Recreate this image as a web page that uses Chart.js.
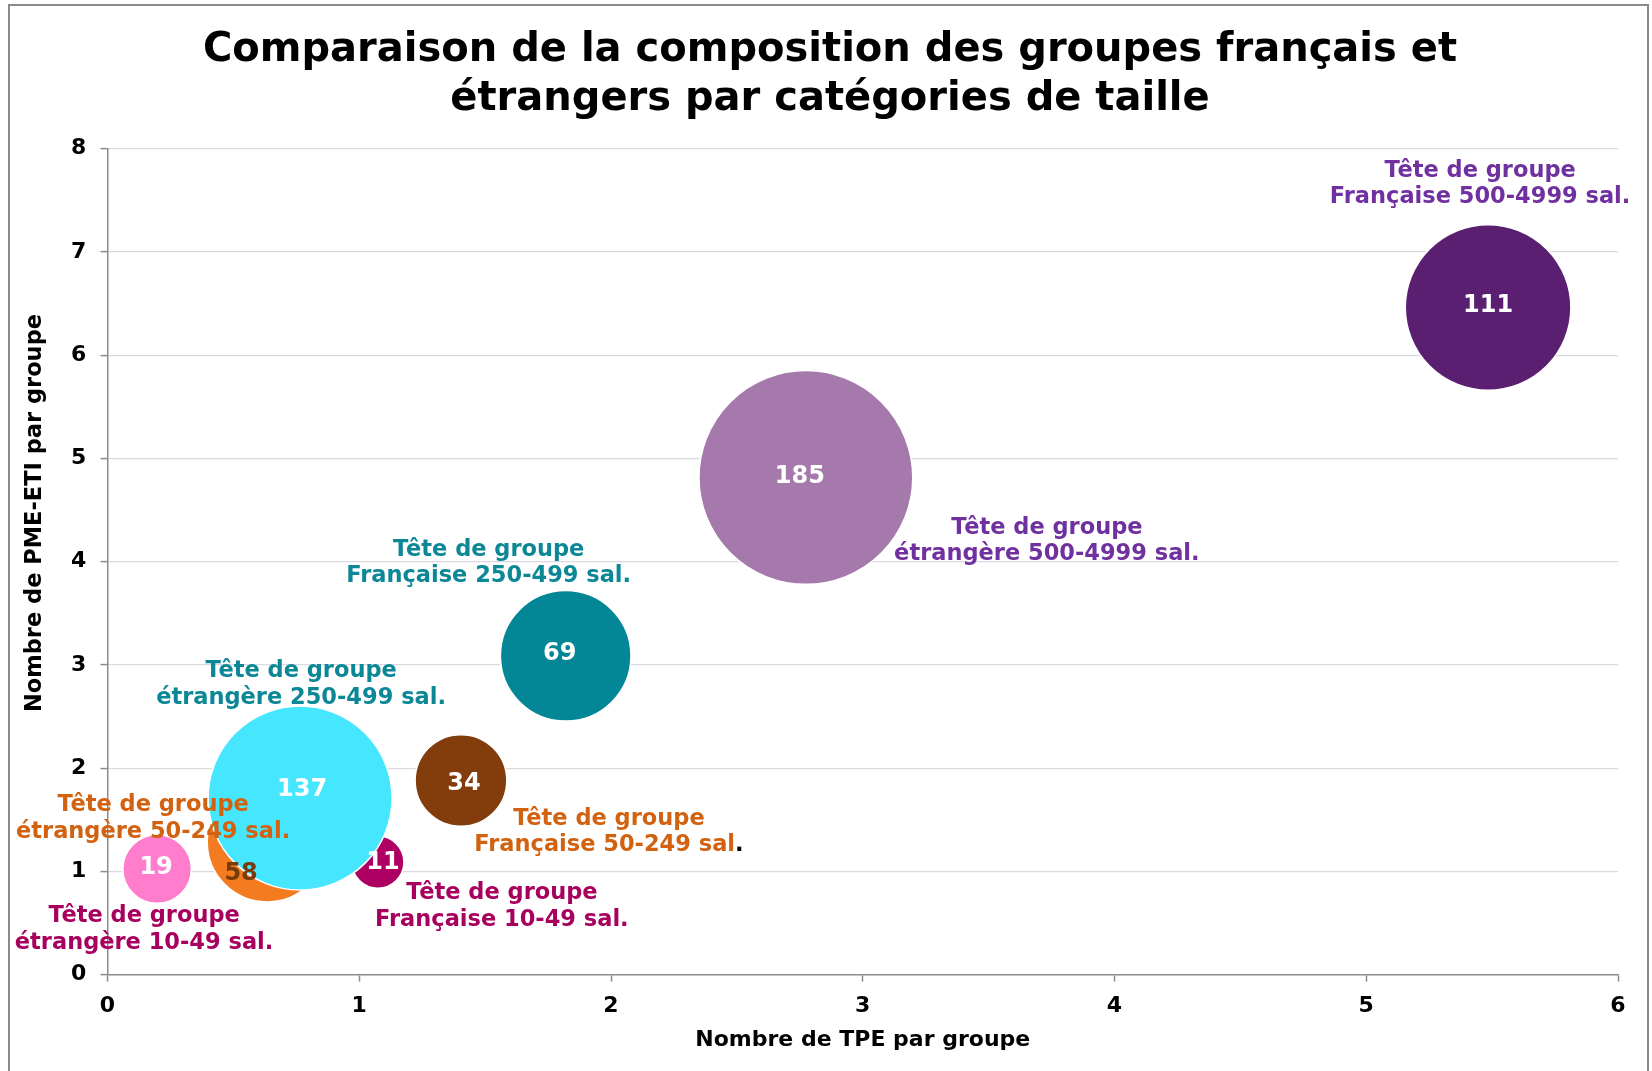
<!DOCTYPE html>
<html lang="fr">
<head>
<meta charset="utf-8">
<title>Comparaison de la composition des groupes français et étrangers</title>
<script src="https://cdn.jsdelivr.net/npm/chart.js@4.4.1/dist/chart.umd.min.js"></script>
<style>
  html, body { margin: 0; padding: 0; background: #fff; }
  canvas { display: block; }
</style>
</head>
<body>
<canvas id="chart" width="1652" height="1071"></canvas>
<script>
// --- data ---
const groupNames = [
  "étrangère 10-49 sal.",
  "Française 10-49 sal.",
  "étrangère 50-249 sal.",
  "étrangère 250-499 sal.",
  "Française 50-249 sal.",
  "Française 250-499 sal.",
  "étrangère 500-4999 sal.",
  "Française 500-4999 sal."
];
const tpeParGroupe    = [0.197, 1.074, 0.634, 0.765, 1.404, 1.820, 2.774, 5.484];
const pmeEtiParGroupe = [1.023, 1.090, 1.284, 1.710, 1.880, 3.088, 4.815, 6.461];
const nbGroupes       = [19, 11, 58, 137, 34, 69, 185, 111];
const xTickLabels = ["0", "1", "2", "3", "4", "5", "6"];
const yTickLabels = ["0", "1", "2", "3", "4", "5", "6", "7", "8"];

// --- styling ---
const FONT = "'DejaVu Sans', Verdana, sans-serif";
const bubbleColors = ["#FF7DCC", "#AE0063", "#F47B20", "#47E6FF", "#833C0B", "#038797", "#A679AD", "#5B1F72"];
const textColors   = ["#A8005E", "#A8005E", "#D2620F", "#0B8796", "#D2620F", "#0B8796", "#7030A0", "#7030A0"];
const valueColors  = ["#fff", "#fff", "#7A3B0C", "#fff", "#fff", "#fff", "#fff", "#fff"];
// where the two-line labels sit, relative to bubble centre (px)
const labelShift = [[-13, 47.5], [124, 31.5], [-114, -36.5], [1, -126.5], [148, 38.5], [-77, -105.5], [241, 50.5], [-8, -136.5]];
const valueShift = [[-1, -1], [5, 1], [-26, 32], [2, -8], [3, 3], [-6, -2], [-6, -1], [0, -2]];
const blackDot = 4; // the "Française 50-249" label ends with a black full stop
const bubbleScale = 7.86; // radius px per sqrt(n)
const gray = "#8c8c8c";

const points = nbGroupes.map((n, i) => ({
  x: tpeParGroupe[i], y: pmeEtiParGroupe[i], r: bubbleScale * Math.sqrt(n)
}));

const labelsPlugin = {
  id: "bubbleLabels",
  beforeDraw(chart) {
    const c = chart.ctx;
    c.save();
    c.strokeStyle = "#8a8a8a";
    c.lineWidth = 2;
    c.strokeRect(9, 5, 1639, 1100);
    c.restore();
  },
  afterDatasetsDraw(chart) {
    const c = chart.ctx;
    const meta = chart.getDatasetMeta(0);
    c.save();
    c.textAlign = "center";
    c.textBaseline = "middle";
    meta.data.forEach((el, i) => {
      // value inside the bubble
      c.font = "bold 24px " + FONT;
      c.fillStyle = valueColors[i];
      c.fillText(String(nbGroupes[i]), el.x + valueShift[i][0], el.y + valueShift[i][1]);
    });
    meta.data.forEach((el, i) => {
      const lx = el.x + labelShift[i][0];
      const ly = el.y + labelShift[i][1];
      c.font = "bold 22.5px " + FONT;
      c.fillStyle = textColors[i];
      c.textAlign = "center";
      c.fillText("Tête de groupe", lx, ly);
      if (i === blackDot) {
        const name = groupNames[i];
        const head = name.slice(0, -1);
        const w = c.measureText(name).width;
        const x0 = lx - w / 2;
        c.textAlign = "left";
        c.fillText(head, x0, ly + 26.3);
        c.fillStyle = "#000";
        c.fillText(".", x0 + c.measureText(head).width, ly + 26.3);
      } else {
        c.fillText(groupNames[i], lx, ly + 26.3);
      }
    });
    // y axis title
    c.textAlign = "center";
    c.translate(35, 513);
    c.rotate(-Math.PI / 2);
    c.font = "bold 22.5px " + FONT;
    c.fillStyle = "#000";
    c.fillText("Nombre de PME-ETI par groupe", 0, 0);
    c.restore();
  }
};

new Chart(document.getElementById("chart"), {
  type: "bubble",
  data: {
    datasets: [{
      data: points,
      backgroundColor: bubbleColors,
      borderColor: "#fff",
      borderWidth: 1.5
    }]
  },
  options: {
    responsive: false,
    devicePixelRatio: 1,
    animation: false,
    events: [],
    layout: { autoPadding: false, padding: { left: 42, right: 34, top: 0, bottom: 0 } },
    plugins: {
      legend: { display: false },
      tooltip: { enabled: false },
      title: {
        display: true,
        text: ["Comparaison de la composition des groupes français et", "étrangers par catégories de taille"],
        color: "#000",
        font: { family: FONT, size: 40, weight: "bold", lineHeight: 1.2375 },
        padding: { top: 25.75, bottom: 23.85 }
      }
    },
    scales: {
      x: {
        type: "linear",
        min: 0, max: 6,
        afterFit: s => { s.height = 96.4; },
        ticks: {
          stepSize: 1,
          padding: 11.4,
          color: "#000",
          font: { family: FONT, size: 22, weight: "bold" },
          callback: v => xTickLabels[v]
        },
        grid: { drawOnChartArea: false, tickLength: 7, tickColor: gray, tickWidth: 1.5 },
        border: { color: gray, width: 1.5 },
        title: {
          display: true,
          text: "Nombre de TPE par groupe",
          color: "#000",
          font: { family: FONT, size: 22, weight: "bold" },
          padding: { top: 0, bottom: 18 }
        }
      },
      y: {
        type: "linear",
        min: 0, max: 8,
        afterFit: s => { s.width = 65.5; },
        ticks: {
          stepSize: 1,
          padding: 14.1,
          color: "#000",
          font: { family: FONT, size: 22, weight: "bold" },
          callback: v => yTickLabels[v]
        },
        grid: {
          color: ctx => ctx.tick && ctx.tick.value === 0 ? "rgba(0,0,0,0)" : "#dcd9e3",
          lineWidth: 1.2,
          tickLength: 7,
          tickColor: gray,
          tickWidth: 1.5
        },
        border: { color: gray, width: 1.5 }
      }
    }
  },
  plugins: [labelsPlugin]
});
</script>
</body>
</html>
